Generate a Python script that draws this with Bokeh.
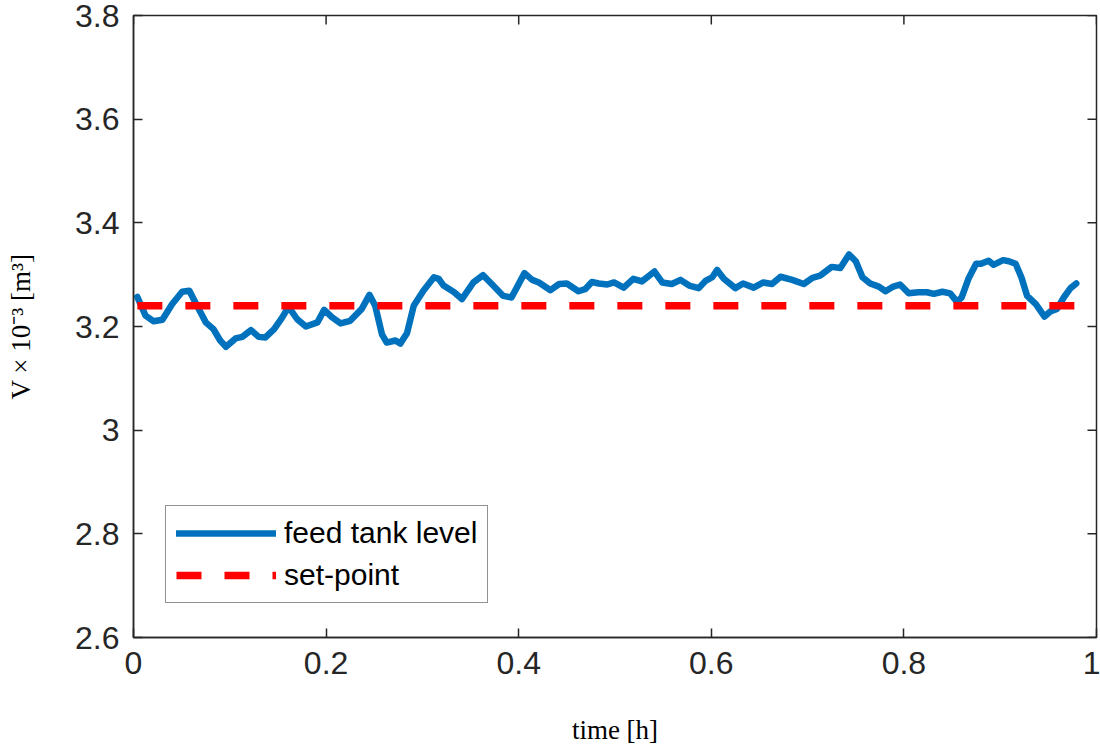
from math import pi

from bokeh.plotting import figure
from bokeh.models import (ColumnDataSource, FixedTicker, LinearAxis, Legend,
                          LegendItem, Range1d)
from bokeh.embed import file_html
from bokeh.resources import INLINE

# Feed tank volume over time (hours) and the constant set-point
time_h = [0.004, 0.0125, 0.021, 0.030, 0.040, 0.0505, 0.058, 0.066, 0.075, 0.083,
          0.090, 0.096, 0.106, 0.113, 0.122, 0.130, 0.137, 0.146, 0.154, 0.161,
          0.170, 0.179, 0.191, 0.198, 0.206, 0.215, 0.225, 0.237, 0.245, 0.251,
          0.258, 0.263, 0.272, 0.277, 0.284, 0.291, 0.301, 0.312, 0.317, 0.322,
          0.333, 0.341, 0.353, 0.363, 0.372, 0.384, 0.3925, 0.398, 0.406, 0.414,
          0.421, 0.433, 0.442, 0.450, 0.462, 0.469, 0.476, 0.483, 0.492, 0.499,
          0.509, 0.519, 0.528, 0.541, 0.549, 0.559, 0.568, 0.577, 0.587, 0.594,
          0.601, 0.606, 0.613, 0.625, 0.633, 0.644, 0.654, 0.663, 0.672, 0.684,
          0.696, 0.705, 0.713, 0.725, 0.734, 0.743, 0.750, 0.757, 0.765, 0.774,
          0.781, 0.789, 0.796, 0.805, 0.815, 0.824, 0.831, 0.840, 0.848, 0.855,
          0.860, 0.867, 0.875, 0.880, 0.888, 0.893, 0.903, 0.909, 0.916, 0.922,
          0.928, 0.937, 0.946, 0.952, 0.959, 0.966, 0.973, 0.979]
tank_level = [3.257, 3.221, 3.210, 3.213, 3.243, 3.267, 3.269, 3.240, 3.208, 3.195,
              3.173, 3.161, 3.177, 3.180, 3.193, 3.180, 3.179, 3.195, 3.216, 3.238,
              3.214, 3.200, 3.208, 3.232, 3.218, 3.206, 3.211, 3.234, 3.261, 3.240,
              3.185, 3.169, 3.173, 3.167, 3.187, 3.240, 3.269, 3.295, 3.292, 3.279,
              3.266, 3.253, 3.285, 3.299, 3.282, 3.259, 3.256, 3.275, 3.303, 3.290,
              3.285, 3.270, 3.282, 3.283, 3.268, 3.272, 3.286, 3.283, 3.281, 3.285,
              3.275, 3.292, 3.287, 3.306, 3.285, 3.282, 3.290, 3.279, 3.274, 3.288,
              3.295, 3.309, 3.292, 3.274, 3.283, 3.275, 3.285, 3.282, 3.296, 3.290,
              3.282, 3.294, 3.298, 3.315, 3.313, 3.339, 3.326, 3.295, 3.283, 3.277,
              3.268, 3.277, 3.281, 3.264, 3.266, 3.266, 3.263, 3.267, 3.264, 3.248,
              3.256, 3.292, 3.321, 3.321, 3.327, 3.319, 3.328, 3.326, 3.321, 3.295,
              3.259, 3.243, 3.219, 3.229, 3.234, 3.256, 3.274, 3.283]
setpoint_value = 3.24
setpoint = [setpoint_value for _ in time_h]

x_ticks = [0, 0.2, 0.4, 0.6, 0.8, 1]
x_tick_labels = ["0", "0.2", "0.4", "0.6", "0.8", "1"]
y_ticks = [2.6, 2.8, 3.0, 3.2, 3.4, 3.6, 3.8]
y_tick_labels = ["2.6", "2.8", "3", "3.2", "3.4", "3.6", "3.8"]

X_MIN, X_MAX = 0, 1
Y_MIN, Y_MAX = 2.6, 3.8

AXIS_COLOR = "#262626"
TICK_FONT = "Liberation Sans"
LABEL_FONT = "Liberation Serif"
TICK_LEN = 9

p = figure(width=1100, height=749, output_backend="svg", toolbar_location=None,
           x_range=Range1d(X_MIN, X_MAX), y_range=Range1d(Y_MIN, Y_MAX),
           min_border_left=133, min_border_right=4, min_border_top=15,
           min_border_bottom=112, x_axis_location=None, y_axis_location=None)
p.grid.visible = False
# boxed axes: the outline closes the frame on the top and right sides
p.outline_line_color = AXIS_COLOR
p.outline_line_width = 1.5
p.outline_line_alpha = 1
p.background_fill_color = "white"
p.border_fill_color = "white"

src = ColumnDataSource(dict(t=time_h, v=tank_level, sp=setpoint))
level_r = p.line("t", "v", source=src, line_color="#0072BD", line_width=6.5,
                 line_join="round", line_cap="round")
sp_r = p.line("t", "sp", source=src, line_color="#FF0000", line_width=7.5,
              line_dash="25 23")

# inward ticks on the top and right edges of the box
p.ray(x=x_ticks, y=[Y_MAX] * len(x_ticks), length=TICK_LEN, length_units="screen",
      angle=-pi / 2, line_color=AXIS_COLOR, line_width=1.5)
p.ray(x=[X_MAX] * len(y_ticks), y=y_ticks, length=TICK_LEN, length_units="screen",
      angle=pi, line_color=AXIS_COLOR, line_width=1.5)


def style_axis(ax, ticks, labels):
    ax.ticker = FixedTicker(ticks=ticks)
    ax.axis_line_color = AXIS_COLOR
    ax.axis_line_width = 1.5
    ax.major_tick_line_color = AXIS_COLOR
    ax.major_tick_line_width = 1.5
    ax.major_tick_in = TICK_LEN
    ax.major_tick_out = 0
    ax.minor_tick_line_color = None
    ax.major_label_overrides = {t: l for t, l in zip(ticks, labels)}
    ax.major_label_text_font = TICK_FONT
    ax.major_label_text_font_size = "32px"
    ax.major_label_text_color = AXIS_COLOR
    ax.major_label_standoff = 14
    ax.axis_label_text_font = LABEL_FONT
    ax.axis_label_text_font_style = "normal"
    ax.axis_label_text_font_size = "27px"
    ax.axis_label_text_color = "black"


xb = LinearAxis(axis_label="time [h]")
style_axis(xb, x_ticks, x_tick_labels)
xb.axis_label_standoff = 38
p.add_layout(xb, "below")

yl = LinearAxis(axis_label="V × 10⁻³ [m³]")
style_axis(yl, y_ticks, y_tick_labels)
yl.axis_label_standoff = 36
p.add_layout(yl, "left")

legend = Legend(items=[LegendItem(label="feed tank level", renderers=[level_r]),
                       LegendItem(label="set-point", renderers=[sp_r])],
                location=(32, 34))
legend.label_text_font = TICK_FONT
legend.label_text_font_size = "30px"
legend.label_text_color = "black"
legend.glyph_width = 100
legend.glyph_height = 34
legend.label_height = 34
legend.label_standoff = 8
legend.spacing = 8
legend.padding = 10
legend.margin = 0
legend.border_line_color = AXIS_COLOR
legend.border_line_width = 1.5
legend.background_fill_color = "white"
legend.background_fill_alpha = 1
p.add_layout(legend, "center")

open("out.html", "w").write(file_html(p, INLINE))
